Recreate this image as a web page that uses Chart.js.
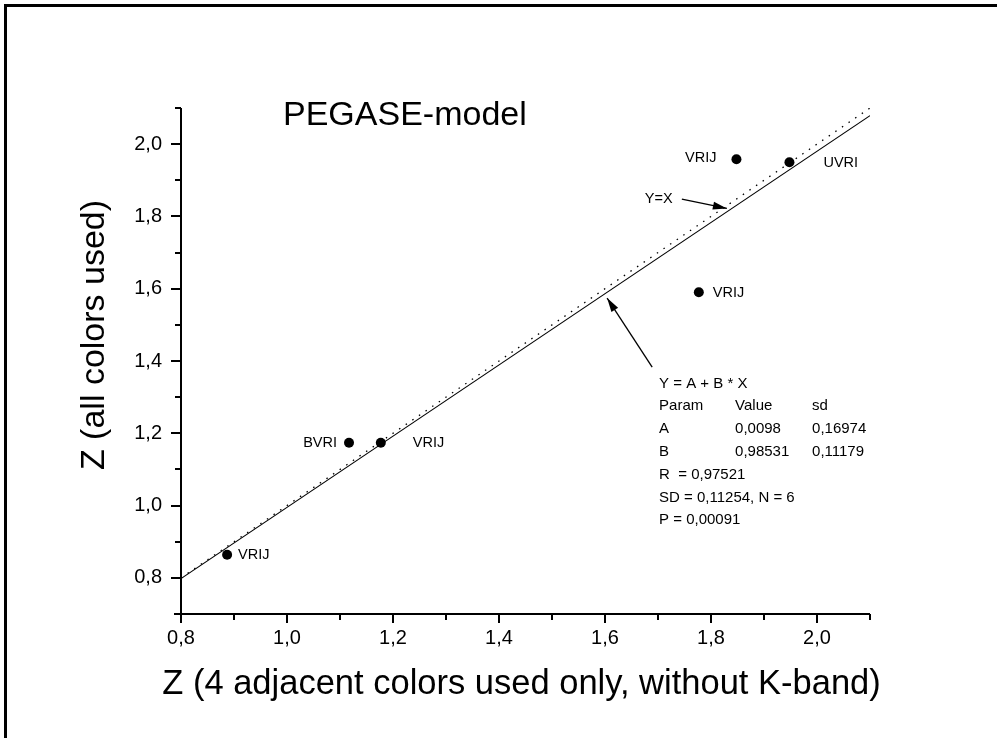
<!DOCTYPE html>
<html><head><meta charset="utf-8">
<script src="https://cdn.jsdelivr.net/npm/chart.js@4.4.0/dist/chart.umd.min.js"></script>
<style>
html,body{margin:0;padding:0;background:#fff;}
#wrap{position:relative;width:997px;height:738px;overflow:hidden;background:#fff;}
#frame{position:absolute;left:4px;top:4px;width:1100px;height:800px;border-top:3px solid #000;border-left:3px solid #000;pointer-events:none;}
canvas{position:absolute;left:0;top:0;}
</style></head><body>
<div id="wrap"><canvas id="c" width="997" height="738"></canvas><div id="frame"></div></div>
<script>
// ---- data ----
const pointNames = ['VRIJ', 'BVRI', 'VRIJ', 'VRIJ', 'VRIJ', 'UVRI'];
const zAdjacent  = [0.887, 1.117, 1.177, 1.777, 1.848, 1.948];   // x: Z (4 adjacent colors)
const zAll       = [0.864, 1.174, 1.174, 1.590, 1.958, 1.950];   // y: Z (all colors)
const xTickValues = [0.8, 1.0, 1.2, 1.4, 1.6, 1.8, 2.0];
const xMinorTicks = [0.9, 1.1, 1.3, 1.5, 1.7, 1.9, 2.1];
const yTickValues = [0.8, 1.0, 1.2, 1.4, 1.6, 1.8, 2.0];
const yMinorTicks = [0.9, 1.1, 1.3, 1.5, 1.7, 1.9, 2.1];
const xRange = [0.8, 2.1];
const yRange = [0.7, 2.1];
const fitA = 0.0098;
const fitB = 0.98531;
const lineXs = [0.8, 2.1];
const statsRows = [
  ['Y = A + B * X'],
  ['Param', 'Value', 'sd'],
  ['A', '0,0098', '0,16974'],
  ['B', '0,98531', '0,11179'],
  ['R  = 0,97521'],
  ['SD = 0,11254, N = 6'],
  ['P = 0,00091']
];
const titleText = 'PEGASE-model';
const xTitle = 'Z (4 adjacent colors used only, without K-band)';
const yTitle = 'Z (all colors used)';

// ---- styles / layout ----
const FONT = "'Liberation Sans', Arial, Helvetica, sans-serif";
const labelStyle = [
  {dx: 11, dy: 0, align: 'left'},
  {dx: -12, dy: 0, align: 'right'},
  {dx: 32, dy: 0, align: 'left'},
  {dx: 14, dy: 1, align: 'left'},
  {dx: -20, dy: -1, align: 'right'},
  {dx: 34, dy: 1, align: 'left'}
];

const fitPoints = lineXs.map(v => ({x: v, y: fitA + fitB * v}));
const identityPoints = lineXs.map(v => ({x: v, y: v}));
const scatterPoints = zAdjacent.map((v, i) => ({x: v, y: zAll[i]}));
const fmt = v => Number(v).toFixed(1).replace('.', ',');

const decor = {
  id: 'decor',
  afterDraw(chart) {
    const {ctx, chartArea: a} = chart;
    const X = chart.scales.x, Y = chart.scales.y;
    const px = v => X.getPixelForValue(v), py = v => Y.getPixelForValue(v);
    ctx.save();
    ctx.strokeStyle = '#000';
    ctx.fillStyle = '#000';
    // axis lines
    ctx.lineWidth = 2;
    ctx.beginPath();
    ctx.moveTo(a.left - 7, Math.round(a.bottom)); ctx.lineTo(a.right, Math.round(a.bottom));
    ctx.moveTo(Math.round(a.left), a.top); ctx.lineTo(Math.round(a.left), a.bottom + 4);
    ctx.stroke();
    // ticks
    ctx.lineWidth = 2;
    ctx.beginPath();
    xTickValues.forEach(v => { const p = Math.round(px(v)); ctx.moveTo(p, a.bottom); ctx.lineTo(p, a.bottom + 9); });
    xMinorTicks.forEach(v => { const p = Math.round(px(v)); ctx.moveTo(p, a.bottom); ctx.lineTo(p, a.bottom + 6); });
    yTickValues.forEach(v => { const p = Math.round(py(v)); ctx.moveTo(a.left, p); ctx.lineTo(a.left - 10, p); });
    yMinorTicks.forEach(v => { const p = Math.round(py(v)); ctx.moveTo(a.left, p); ctx.lineTo(a.left - 6, p); });
    ctx.stroke();

    // title and axis titles
    ctx.textBaseline = 'alphabetic';
    ctx.textAlign = 'left';
    ctx.font = '34px ' + FONT;
    ctx.fillText(titleText, 283, 125);
    ctx.font = '34.5px ' + FONT;
    ctx.textAlign = 'center';
    ctx.textBaseline = 'middle';
    ctx.fillText(xTitle, (a.left + a.right) / 2 - 4, 684);
    ctx.font = '34px ' + FONT;
    ctx.save();
    ctx.translate(95, 335);
    ctx.rotate(-Math.PI / 2);
    ctx.fillText(yTitle, 0, 0);
    ctx.restore();

    // point labels
    ctx.font = '14.5px ' + FONT;
    ctx.textBaseline = 'middle';
    pointNames.forEach((n, i) => {
      const s = labelStyle[i];
      ctx.textAlign = s.align;
      ctx.fillText(n, px(zAdjacent[i]) + s.dx, py(zAll[i]) + s.dy);
    });

    // Y=X label + arrow
    ctx.textAlign = 'left';
    ctx.fillText('Y=X', px(1.675), py(1.848));
    arrow(ctx, px(1.745), py(1.848), px(1.830), py(1.822));
    // fit arrow
    arrow(ctx, px(1.689), py(1.383), px(1.604), py(1.574));

    // stats block
    ctx.font = '15px ' + FONT;
    const cols = [0, 76, 153];
    const left = px(1.702), top = py(1.338);
    statsRows.forEach((row, r) => {
      row.forEach((t, c) => ctx.fillText(t, left + cols[c], top + r * 22.8));
    });
    ctx.restore();
  }
};
function arrow(ctx, x1, y1, x2, y2) {
  ctx.lineWidth = 1.3;
  ctx.beginPath(); ctx.moveTo(x1, y1); ctx.lineTo(x2, y2); ctx.stroke();
  const ang = Math.atan2(y2 - y1, x2 - x1), L = 14, W = 4;
  ctx.beginPath();
  ctx.moveTo(x2, y2);
  ctx.lineTo(x2 - L * Math.cos(ang) + W * Math.sin(ang), y2 - L * Math.sin(ang) - W * Math.cos(ang));
  ctx.lineTo(x2 - L * Math.cos(ang) - W * Math.sin(ang), y2 - L * Math.sin(ang) + W * Math.cos(ang));
  ctx.closePath(); ctx.fill();
}

new Chart(document.getElementById('c'), {
  type: 'scatter',
  data: {
    datasets: [
      {data: identityPoints, showLine: true, borderColor: '#000', borderWidth: 1.3, borderDash: [1.5, 6.5], pointRadius: 0, fill: false},
      {data: fitPoints, showLine: true, borderColor: '#000', borderWidth: 1.1, pointRadius: 0, fill: false},
      {data: scatterPoints, showLine: false, pointRadius: 5, pointBackgroundColor: '#000', pointBorderColor: '#000', pointBorderWidth: 0}
    ]
  },
  options: {
    responsive: false,
    animation: false,
    events: [],
    layout: {padding: {left: 121, right: 127, top: 108, bottom: 74}},
    plugins: {legend: {display: false}, tooltip: {enabled: false}, title: {display: false}},
    scales: {
      x: {
        type: 'linear', min: xRange[0], max: xRange[1],
        grid: {display: false, drawTicks: false}, border: {display: false},
        afterBuildTicks: s => { s.ticks = xTickValues.map(v => ({value: v})); },
        afterFit: s => { s.height = 50; },
        ticks: {autoSkip: false, maxRotation: 0, padding: 12, color: '#000', font: {family: FONT, size: 20}, callback: v => fmt(v)}
      },
      y: {
        type: 'linear', min: yRange[0], max: yRange[1],
        grid: {display: false, drawTicks: false}, border: {display: false},
        afterBuildTicks: s => { s.ticks = yTickValues.map(v => ({value: v})); },
        afterFit: s => { s.width = 60; },
        ticks: {autoSkip: false, padding: 19, color: '#000', font: {family: FONT, size: 20}, callback: v => fmt(v)}
      }
    }
  },
  plugins: [decor]
});
</script>
</body></html>
